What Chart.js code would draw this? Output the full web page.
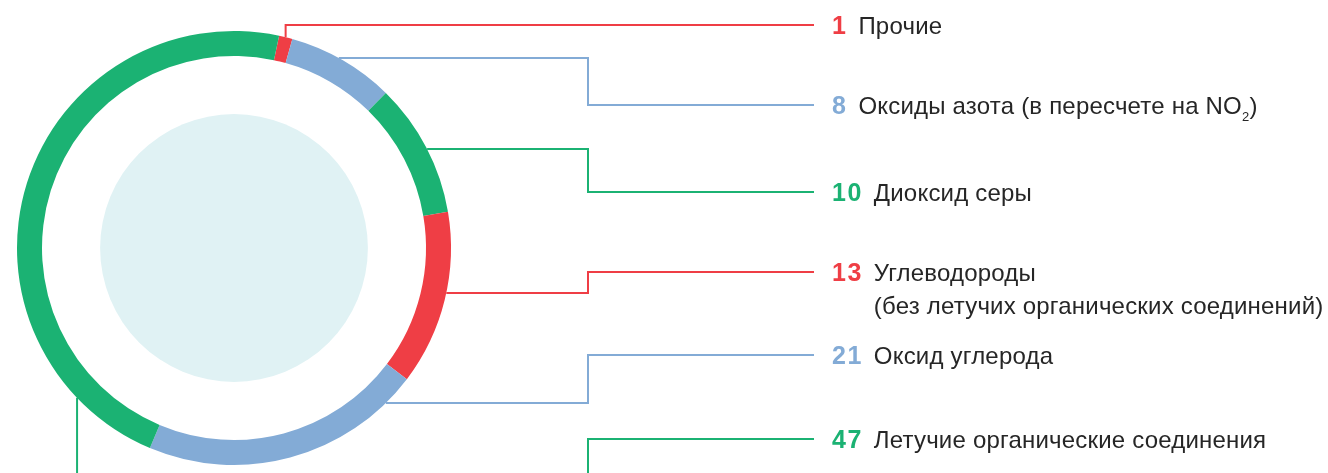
<!DOCTYPE html>
<html lang="ru">
<head>
<meta charset="utf-8">
<title>Выбросы загрязняющих веществ</title>
<script src="https://cdn.jsdelivr.net/npm/chart.js@4.4.1/dist/chart.umd.min.js"></script>
<style>
  html, body { margin: 0; padding: 0; background: #fff; }
  #wrap { width: 1328px; height: 473px; }
</style>
</head>
<body>
<div id="wrap"><canvas id="chart" width="1328" height="473"></canvas></div>
<script>
// ---------- Data ----------------------------------------------------------
const categories = [
  "Прочие",
  "Оксиды азота (в пересчете на NO₂)",
  "Диоксид серы",
  "Углеводороды\n(без летучих органических соединений)",
  "Оксид углерода",
  "Летучие органические соединения",
];
const shares = [1, 8, 10, 13, 21, 47];   // %

// ---------- Look ----------------------------------------------------------
const RED = "#ef3e45", BLUE = "#83abd6", GREEN = "#1bb273";
const segColors = [RED, BLUE, GREEN, RED, BLUE, GREEN];
const TEXT = "#262626";
const DISC = "#e0f2f4";
const FONT = "'Liberation Sans', Arial, sans-serif";

// leaders: where on the segment the line leaves the ring (0..1 of its sweep),
// how it runs, and the y of the label row it ends at
const leaderAt   = [0.49, 0.461, 0.513, 0.461, 0.111, 0.139];
const leaderKind = ["up", "h", "h", "h", "h", "down"];
const rowY       = [25, 105, 192, 272, 355, 439];
const ELBOW_X = 588, LINE_END_X = 814, NUM_X = 832;

const leaders = {
  id: "leaders",
  beforeDatasetsDraw(chart) {
    // pale disc in the middle of the ring
    const a = chart.getDatasetMeta(0).data[0];
    const ctx = chart.ctx;
    ctx.save();
    ctx.fillStyle = DISC;
    ctx.beginPath();
    ctx.arc(a.x, a.y, a.outerRadius * 0.617, 0, Math.PI * 2);
    ctx.fill();
    ctx.restore();
  },
  afterDatasetsDraw(chart) {
    const ctx = chart.ctx;
    const H = chart.height;
    ctx.save();
    ctx.lineWidth = 2;
    chart.getDatasetMeta(0).data.forEach((arc, i) => {
      const ang = arc.startAngle + (arc.endAngle - arc.startAngle) * leaderAt[i];
      const px = arc.x + Math.cos(ang) * arc.outerRadius;
      const py = arc.y + Math.sin(ang) * arc.outerRadius;
      const y = rowY[i];
      ctx.strokeStyle = segColors[i];
      ctx.beginPath();
      if (leaderKind[i] === "up") {
        ctx.moveTo(px, py);
        ctx.lineTo(px, y);
        ctx.lineTo(LINE_END_X, y);
      } else if (leaderKind[i] === "h") {
        ctx.moveTo(px, py);
        ctx.lineTo(ELBOW_X, py);
        ctx.lineTo(ELBOW_X, y);
        ctx.lineTo(LINE_END_X, y);
      } else {
        // runs off the bottom and comes back up to the row
        ctx.moveTo(px, py);
        ctx.lineTo(px, H + 2);
        ctx.moveTo(ELBOW_X, H + 2);
        ctx.lineTo(ELBOW_X, y);
        ctx.lineTo(LINE_END_X, y);
      }
      ctx.stroke();

      // value + name
      const base = y + 9;
      ctx.textBaseline = "alphabetic";
      ctx.textAlign = "left";
      ctx.font = "bold 25px " + FONT;
      ctx.letterSpacing = "1.5px";
      ctx.fillStyle = segColors[i];
      const num = String(shares[i]);
      ctx.fillText(num, NUM_X, base);
      const textX = NUM_X + ctx.measureText(num).width + 11;

      ctx.letterSpacing = "0.2px";
      ctx.fillStyle = TEXT;
      categories[i].split("\n").forEach((line, k) => {
        const ly = base + k * 33;
        const parts = line.split("₂");
        let x = textX;
        parts.forEach((part, j) => {
          ctx.font = "24px " + FONT;
          ctx.fillText(part, x, ly);
          x += ctx.measureText(part).width;
          if (j < parts.length - 1) {
            ctx.font = "13px " + FONT;
            ctx.fillText("2", x, ly + 7);
            x += ctx.measureText("2").width;
          }
        });
      });
    });
    ctx.restore();
  },
};

new Chart(document.getElementById("chart"), {
  type: "doughnut",
  data: {
    labels: categories,
    datasets: [{
      data: shares,
      backgroundColor: segColors,
      borderWidth: 0,
      hoverOffset: 0,
    }],
  },
  options: {
    responsive: false,
    devicePixelRatio: 1,
    animation: false,
    rotation: 12,
    radius: 217,
    cutout: 192,
    layout: { padding: { left: 17, top: 31, right: 877, bottom: 8 } },
    plugins: { legend: { display: false }, tooltip: { enabled: false } },
    events: [],
  },
  plugins: [leaders],
});
</script>
</body>
</html>
